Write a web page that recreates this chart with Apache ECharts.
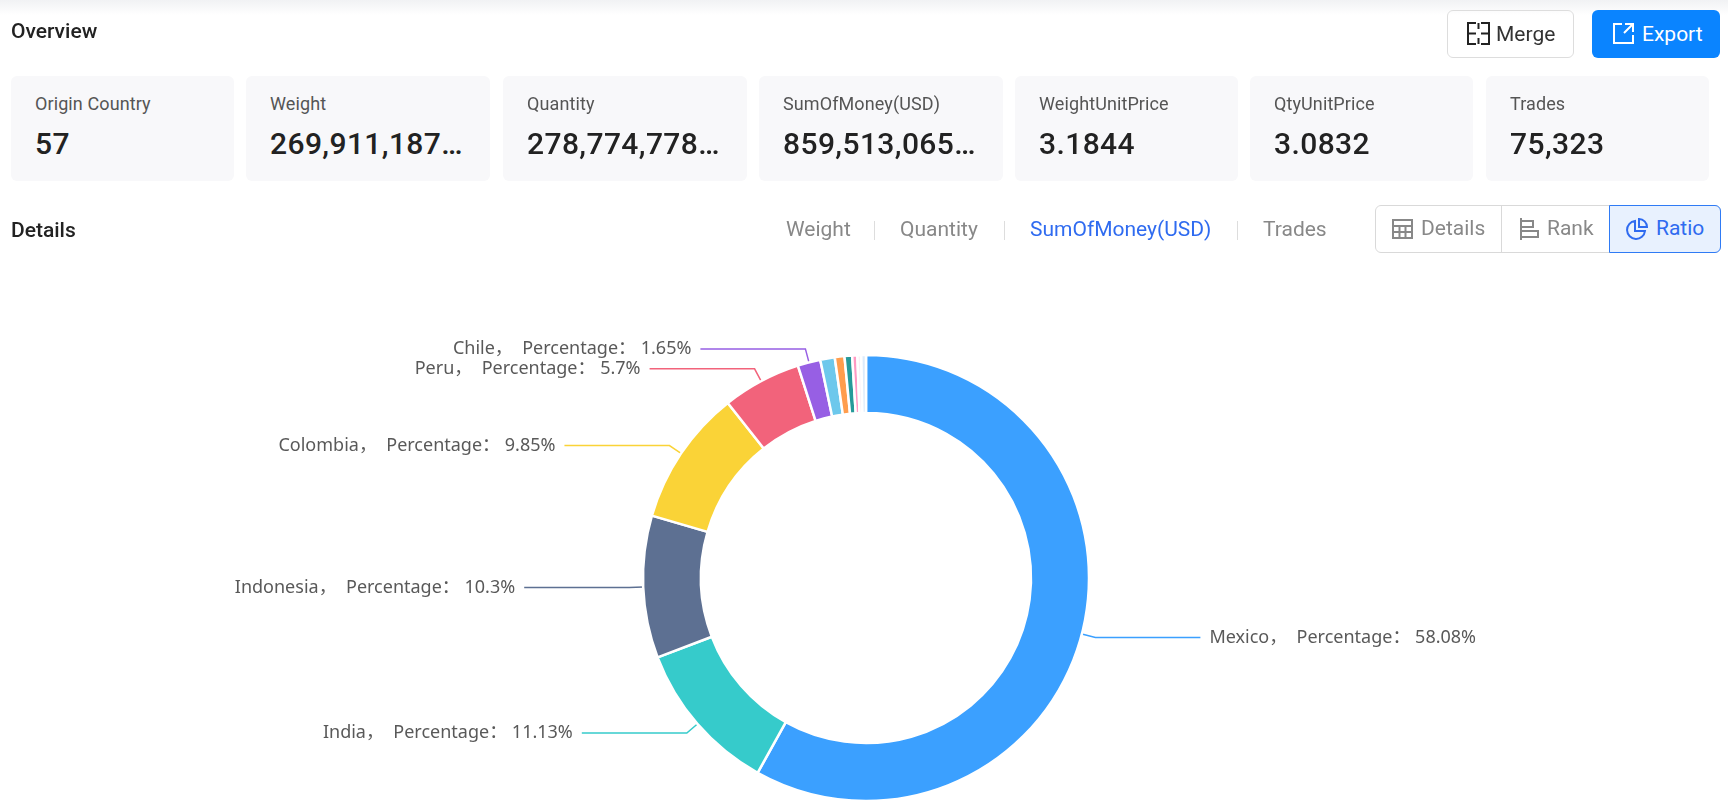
<!DOCTYPE html>
<html>
<head>
<meta charset="utf-8">
<title>Overview</title>
<script src="https://cdn.jsdelivr.net/npm/echarts@6/dist/echarts.min.js"></script>
<style>
html, body { margin: 0; padding: 0; background: #fff; overflow: hidden; }
body { width: 1728px; height: 807px; position: relative; font-family: Roboto, "Noto Sans", sans-serif; color: #222; }
#top { position: absolute; left: 0; top: 0; width: 1728px; height: 15px; background: linear-gradient(#f1f2f4, #fff); }
#pie { position: absolute; left: 0; top: 0; width: 1728px; height: 807px; }
.abs { position: absolute; white-space: nowrap; }
.head { font-size: 21px; font-weight: 500; color: #222; }
.card { position: absolute; top: 76px; height: 105px; background: #f8f8fa; border-radius: 6px; }
.card .l { position: absolute; left: 24px; top: 17px; font-size: 18px; letter-spacing: 0.1px; line-height: 22px; color: #555; white-space: nowrap; }
.card .v { position: absolute; left: 24px; top: 48px; font-size: 30px; line-height: 40px; font-weight: 500; letter-spacing: 0.4px; color: #222; white-space: nowrap; }
.btn { position: absolute; top: 10px; height: 48px; box-sizing: border-box; border-radius: 6px; font-size: 21px; line-height: 46px; white-space: nowrap; }
.tab { position: absolute; top: 216px; font-size: 21px; line-height: 26px; color: #888; white-space: nowrap; }
.sep { position: absolute; top: 221px; width: 1px; height: 19px; background: #ddd; }
.group { position: absolute; left: 1375px; top: 205px; width: 346px; height: 48px; box-sizing: border-box; border: 1px solid #d9d9d9; border-radius: 6px; }
.seg { position: absolute; top: 0; height: 46px; font-size: 21px; line-height: 45px; color: #888; white-space: nowrap; }
svg { position: absolute; fill: none; stroke-width: 2; }
</style>
</head>
<body>
<div id="top"></div>
<div id="pie"></div>
<div class="abs head" style="left:11px;top:19px;line-height:24px">Overview</div>
<div class="btn" style="left:1447px;width:127px;border:1px solid #ddd;color:#333;padding-left:48px">
  <svg style="left:18px;top:10px;stroke:#222" width="25" height="25" viewBox="0 0 25 25"><path d="M10 2H2v21h8M15 2h8v21h-8M2 12.5h8M15 12.5h8M12.5 2v6M12.5 17v6"/></svg>Merge</div>
<div class="btn" style="left:1592px;width:128px;background:#0a84ff;color:#fff;padding-left:50px;line-height:48px">
  <svg style="left:20px;top:12px;stroke:#fff" width="23" height="23" viewBox="0 0 23 23"><path d="M10 2H2v19h19v-8M13 2h8v8M21 2l-9 9"/></svg>Export</div>
<div id="cards"></div>
<div class="abs head" style="left:11px;top:218px;line-height:24px">Details</div>
<div id="tabs"></div>
<div class="group">
  <div class="seg" style="left:0;width:125px;padding-left:45px;box-sizing:border-box">
    <svg style="left:16px;top:13px;stroke:#888" width="21" height="20" viewBox="0 0 21 20"><path d="M1 1h19v18H1zM1 7h19M1 13h19M7.500 7v12M13.500 7v12"/></svg>Details</div>
  <div style="position:absolute;left:125px;top:0;width:1px;height:46px;background:#d9d9d9"></div>
  <div class="seg" style="left:126px;width:108px;padding-left:45px;box-sizing:border-box">
    <svg style="left:17px;top:12px;stroke:#888" width="20" height="22" viewBox="0 0 20 22"><path d="M2 0v22M2 3h12v6H2M2 13h17v6H2"/></svg>Rank</div>
  <div class="seg" style="left:233px;top:-1px;width:112px;height:48px;box-sizing:border-box;background:#e8f1fe;border:1px solid #2f7bf5;border-radius:0 6px 6px 0;color:#2f6bf0;padding-left:46px">
    <svg style="left:16px;top:12px;stroke:#2f6bf0" width="22" height="22" viewBox="0 0 22 22"><path d="M9 3a9 9 0 1 0 10 10H9zM13 1a8 8 0 0 1 8 8h-8z"/></svg>Ratio</div>
</div>
<script>
// kpi cards
var cardLabels = ['Origin Country', 'Weight', 'Quantity', 'SumOfMoney(USD)', 'WeightUnitPrice', 'QtyUnitPrice', 'Trades'];
var cardValues = ['57', '269,911,187…', '278,774,778…', '859,513,065…', '3.1844', '3.0832', '75,323'];
var cardLeft = [11, 246, 503, 759, 1015, 1250, 1486];
var cardWidth = [223, 244, 244, 244, 223, 223, 223];

var tabNames = ['Weight', 'Quantity', 'SumOfMoney(USD)', 'Trades'];
var tabLeft = [786, 900, 1030, 1263];
var sepLeft = [874, 1004, 1237];

// ring slices, largest first, drawn clockwise from 12 o'clock
// the unlabelled ones are estimated from their width
var countries = ['Mexico', 'India', 'Indonesia', 'Colombia', 'Peru', 'Chile', 'Brazil', 'Ecuador', 'Canada', 'Turkey', 'Egypt', 'Other'];
var percentages = [58.08, 11.13, 10.3, 9.85, 5.7, 1.65, 1.05, 0.7, 0.55, 0.37, 0.28, 0.34];
var sliceColors = ['#3ba0ff', '#36cbcb', '#5d7092', '#fad337', '#f2637b', '#975fe4', '#6dc8ec', '#ff9d4d', '#269a99', '#ff99c3', '#fbeef4', '#dcebfb'];
var labelled = 6;

var html = '';
cardLabels.forEach(function (label, i) {
    html += '<div class="card" style="left:' + cardLeft[i] + 'px;width:' + cardWidth[i] + 'px">' +
        '<div class="l">' + label + '</div><div class="v">' + cardValues[i] + '</div></div>';
});
document.getElementById('cards').innerHTML = html;

html = '';
tabNames.forEach(function (name, i) {
    var color = i == 2 ? ';color:#2f6bf0' : '';
    html += '<div class="tab" style="left:' + tabLeft[i] + 'px' + color + '">' + name + '</div>';
});
sepLeft.forEach(function (x) {
    html += '<div class="sep" style="left:' + x + 'px"></div>';
});
document.getElementById('tabs').innerHTML = html;

var myChart = echarts.init(document.getElementById('pie'));
myChart.setOption({
    animation: false,
    color: sliceColors,
    series: [{
        type: 'pie',
        center: [866, 578],
        radius: [165, 223],
        startAngle: 90,
        clockwise: true,
        silent: true,
        minShowLabelAngle: 0,
        avoidLabelOverlap: false,
        itemStyle: {borderColor: '#fff', borderWidth: 2.5},
        label: {
            fontFamily: '"Noto Sans", "Noto Sans CJK SC", sans-serif',
            fontSize: 18,
            color: '#595959',
            distanceToLabelLine: 9,
            formatter: function (p) {
                return p.name + '，  Percentage： ' + p.value + '%';
            }
        },
        labelLine: {length: 14, length2: 105, lineStyle: {width: 1.5}},
        data: countries.map(function (name, i) {
            var shown = i < labelled;
            return {
                name: name,
                value: percentages[i],
                label: {show: shown},
                labelLine: {show: shown}
            };
        })
    }]
});
</script>
</body>
</html>
